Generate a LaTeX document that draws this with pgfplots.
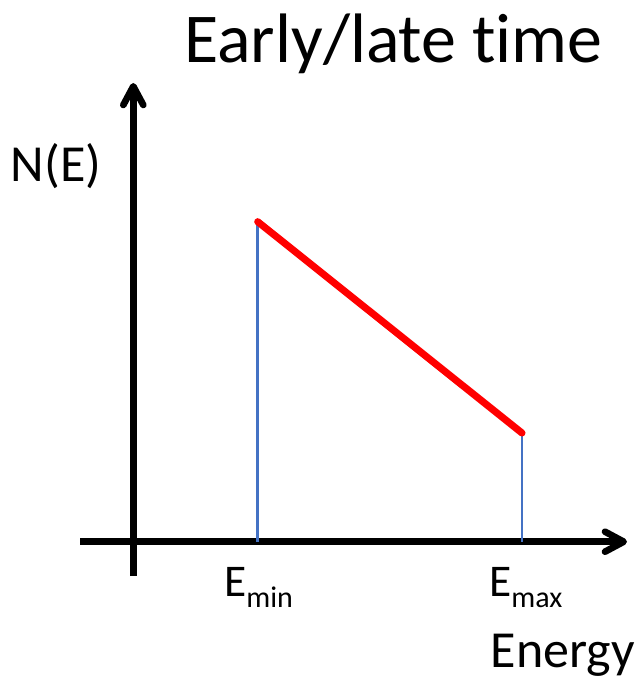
\documentclass[border=0pt]{standalone}
\usepackage{pgfplots}
\pgfplotsset{compat=1.18}
\usepackage{fontspec}
\setmainfont{Carlito}[Ligatures=NoCommon]
\usetikzlibrary{arrows.meta}
\definecolor{edgeblue}{RGB}{68,114,196}
\newcommand{\lbl}[2]{{\fontsize{#1}{#1}\selectfont #2}}
\newcommand{\sub}[1]{\raisebox{-8.5pt}{\fontsize{22.5pt}{24pt}\selectfont #1}}
\begin{document}
\begin{tikzpicture}
\begin{axis}[
  width=480.75pt, height=510pt, scale only axis,
  xmin=0, xmax=641, ymin=0, ymax=680, y dir=reverse,
  hide axis, clip=false,
]
% keep the full canvas
\path (axis cs:0,0) (axis cs:641,680);
% coordinate axes
\addplot[black, line width=5pt,
  -{Straight Barb[length=14pt,width=15pt,round]}]
  coordinates {(80,541.7) (627,541.7)};
\addplot[black, line width=5pt,
  -{Straight Barb[length=14pt,width=15pt,round]}]
  coordinates {(133.3,576) (133.3,83)};
% edges of the spectrum
\addplot[edgeblue, line width=2pt] coordinates {(257.7,541.7) (257.7,222)};
\addplot[edgeblue, line width=2pt] coordinates {(522,541.7) (522,433)};
% spectrum N(E)
\addplot[red, line width=5.3pt, line cap=round] coordinates {(257.7,221.7) (522,433)};
% labels
\node[anchor=base west, inner sep=0] at (axis cs:184,63) {\lbl{52.5pt}{Early/late time}};
\node[anchor=base west, inner sep=0] at (axis cs:10.5,182) {\lbl{39pt}{N(E)}};
\node[anchor=base west, inner sep=0] at (axis cs:224,596) {\lbl{34pt}{E\sub{min}}};
\node[anchor=base west, inner sep=0] at (axis cs:489,596) {\lbl{34pt}{E\sub{max}}};
\node[anchor=base west, inner sep=0] at (axis cs:490.5,667) {\lbl{39pt}{Energy}};
\end{axis}
\end{tikzpicture}
\end{document}
